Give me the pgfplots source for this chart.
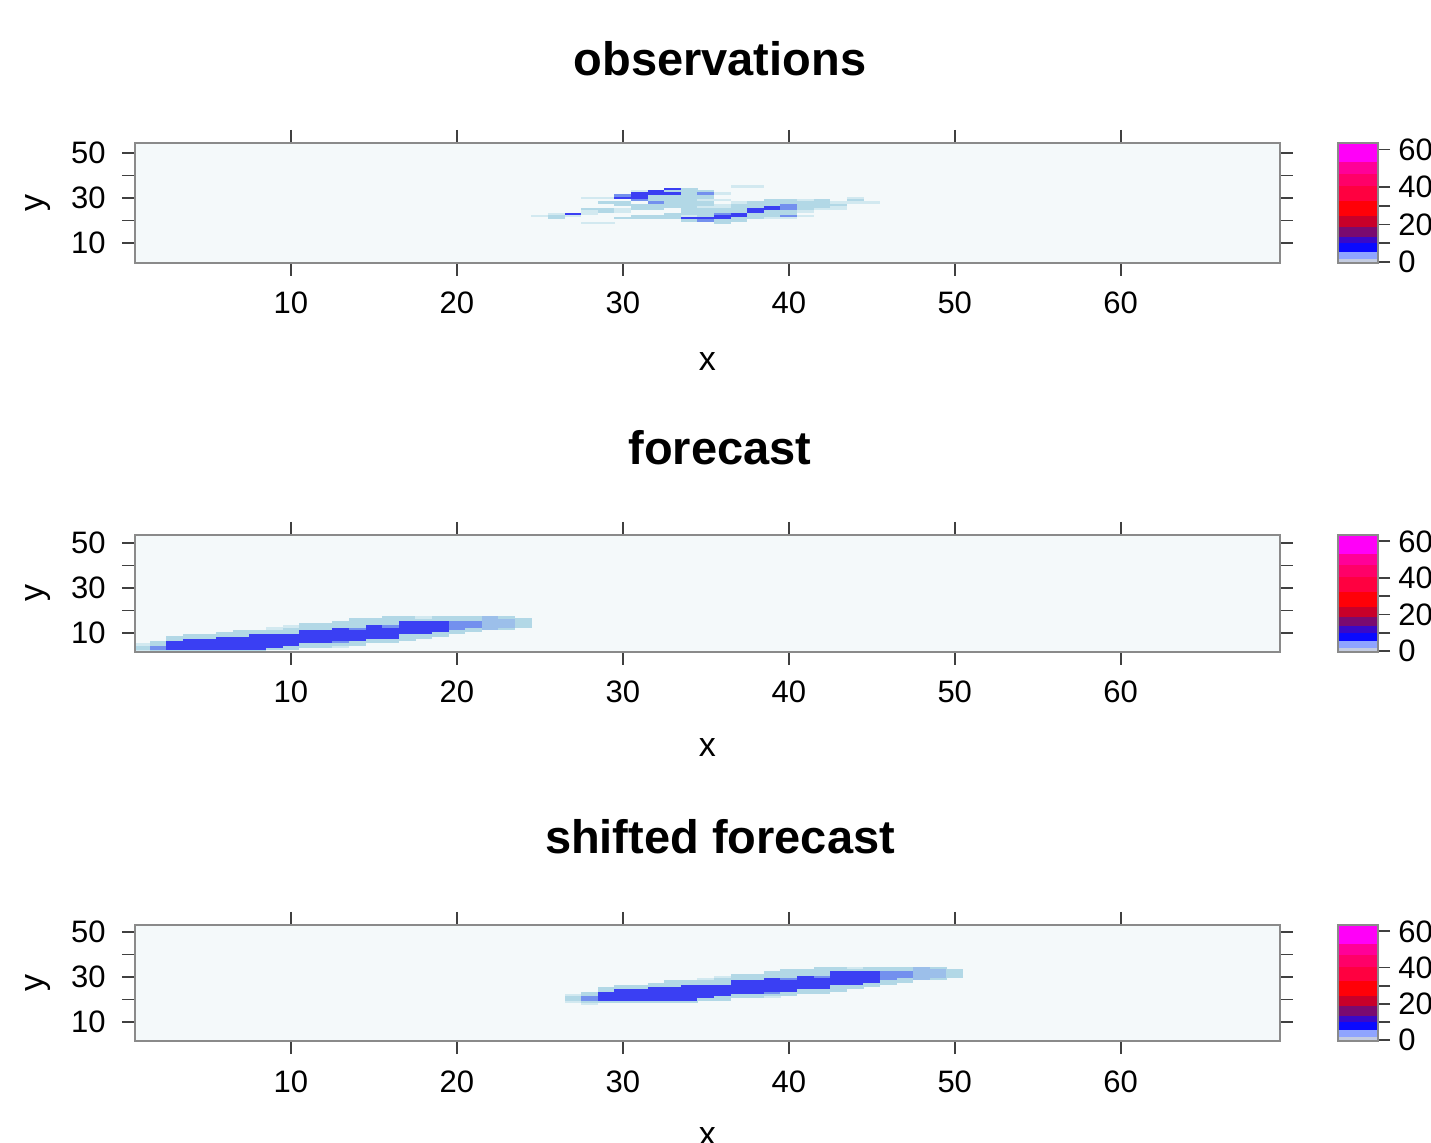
\documentclass[border=0pt]{standalone}
\usepackage{fontspec}
\setmainfont{Liberation Sans}
\usepackage{pgfplots}
\pgfplotsset{compat=1.18}

\definecolor{bgc}{HTML}{F4F9FA}
\definecolor{c1}{HTML}{D2E9F0}
\definecolor{c2}{HTML}{B2D8E6}
\definecolor{c3}{HTML}{9CBFEA}
\definecolor{c4}{HTML}{7390EE}
\definecolor{c5}{HTML}{3A3FF3}
\definecolor{framec}{HTML}{8A8A8A}
\definecolor{cba}{HTML}{C4CCE0}
\definecolor{cbb}{HTML}{8FA4FF}
\definecolor{cbc}{HTML}{0A0AFF}
\definecolor{cbd}{HTML}{3A08C8}
\definecolor{cbe}{HTML}{7A0A70}
\definecolor{cbf}{HTML}{C8002A}
\definecolor{cbg}{HTML}{FF0008}
\definecolor{cbh}{HTML}{FF0040}
\definecolor{cbi}{HTML}{FF0068}
\definecolor{cbj}{HTML}{FF0098}
\definecolor{cbk}{HTML}{FF00F8}

\pgfdeclareplotmark{cellmark}{\pgfpathrectangle{\pgfqpoint{-4.2pt}{-0.59pt}}{\pgfqpoint{8.4pt}{1.18pt}}\pgfusepathqfill}

\pgfplotsset{
  colormap={cellmap}{color(0cm)=(bgc) color(1cm)=(c1) color(2.5cm)=(c2) color(4cm)=(c3) color(5cm)=(c4) color(8cm)=(c5) color(12cm)=(c5)},
  panel/.style={scale only axis, width=572.5pt, xmin=0.6, xmax=69.6, anchor=south west,
    axis background/.style={fill=bgc}, axis on top,
    axis line style={draw=framec, line width=1.2pt},
    tick style={draw=black!75, line width=0.9pt}, major tick length=6.5pt, tick align=outside,
    xtick={10,20,30,40,50,60}, xticklabels={10,20,30,40,50,60},
    ytick={10,20,30,40,50}, yticklabels={10,,30,,50},
    tick label style={font=\fontsize{15.5}{18}\selectfont},
    xticklabel style={anchor=base, yshift=-19pt},
    yticklabel style={anchor=east, inner sep=0pt, xshift=-8pt},
    xlabel={x}, ylabel={y}, label style={font=\fontsize{17}{20}\selectfont},
    xlabel style={at={(axis description cs:0.5,-0.82)}, anchor=center},
    ylabel style={at={(axis description cs:-0.0847,0.5)}, anchor=center},
    colormap name=cellmap, colormap access=piecewise constant,
    point meta min=0, point meta max=12, clip marker paths=true},
  cellplot/.style={scatter, only marks, mark=cellmark, point meta=explicit,
    scatter/use mapped color={draw=none, fill=mapped color}},
  cbar/.style={scale only axis, width=20pt, xmin=0, xmax=1, ymin=-0.5, ymax=63.5, anchor=south west,
    axis on top, axis line style={draw=framec, line width=1.2pt},
    tick style={draw=black!75, line width=0.9pt}, major tick length=6pt, tick align=outside,
    xtick=\empty, ytick={0,10,20,30,40,60}, yticklabels={0,,20,,40,60},
    ytick pos=right, yticklabel pos=right,
    tick label style={font=\fontsize{15.5}{18}\selectfont},
    yticklabel style={anchor=west, inner sep=0pt, xshift=4pt}},
  band/.style={draw=none, fill=#1, point meta=none},
}

\newcommand\cbbands{%
  \addplot[band=cba] coordinates {(0,-0.5) (1,-0.5) (1,1.8) (0,1.8)};
  \addplot[band=cbb] coordinates {(0,1.8) (1,1.8) (1,5.4) (0,5.4)};
  \addplot[band=cbc] coordinates {(0,5.4) (1,5.4) (1,9.9) (0,9.9)};
  \addplot[band=cbd] coordinates {(0,9.9) (1,9.9) (1,13.5) (0,13.5)};
  \addplot[band=cbe] coordinates {(0,13.5) (1,13.5) (1,18.9) (0,18.9)};
  \addplot[band=cbf] coordinates {(0,18.9) (1,18.9) (1,24.3) (0,24.3)};
  \addplot[band=cbg] coordinates {(0,24.3) (1,24.3) (1,32.4) (0,32.4)};
  \addplot[band=cbh] coordinates {(0,32.4) (1,32.4) (1,40.5) (0,40.5)};
  \addplot[band=cbi] coordinates {(0,40.5) (1,40.5) (1,47) (0,47)};
  \addplot[band=cbj] coordinates {(0,47) (1,47) (1,53.2) (0,53.2)};
  \addplot[band=cbk] coordinates {(0,53.2) (1,53.2) (1,63.5) (0,63.5)};
}

\begin{document}
\begin{tikzpicture}
\useasboundingbox (0,0) rectangle (715.5pt,571pt);
\clip (0,0) rectangle (715.5pt,571pt);

% ---------------- observations
\node[font=\fontsize{23.5}{28}\selectfont\bfseries, anchor=base] at (360pt,533pt) {observations};
\begin{axis}[panel, at={(67.5pt,439.5pt)}, height=60pt, ymin=1.1, ymax=54.4]
\addplot[cellplot] table[row sep=\\, x index=0, y index=1, meta index=2] {
x y v\\
25 22 1.5\\
26 21 3.5\\ 26 22 3.5\\ 26 23 1.5\\
27 22 1.5\\ 27 23 9.5\\
28 19 1.5\\ 28 23 1.5\\ 28 24 1.5\\ 28 25 3.5\\ 28 30 1.5\\
29 19 1.5\\ 29 24 3.5\\ 29 25 3.5\\ 29 28 3.5\\ 29 30 1.5\\
30 21 3.5\\ 30 24 1.5\\ 30 25 1.5\\ 30 27 3.5\\ 30 28 3.5\\ 30 30 9.5\\ 30 31 6.5\\
31 21 3.5\\ 31 22 3.5\\ 31 25 3.5\\ 31 26 3.5\\ 31 27 3.5\\ 31 29 6.5\\ 31 30 9.5\\ 31 31 9.5\\ 31 32 9.5\\ 31 33 1.5\\
32 21 3.5\\ 32 22 3.5\\ 32 25 3.5\\ 32 26 3.5\\ 32 27 3.5\\ 32 28 6.5\\ 32 29 3.5\\ 32 30 3.5\\ 32 31 3.5\\ 32 32 9.5\\ 32 33 9.5\\
33 21 3.5\\ 33 22 3.5\\ 33 23 3.5\\ 33 26 3.5\\ 33 27 3.5\\ 33 28 3.5\\ 33 29 3.5\\ 33 30 3.5\\ 33 31 3.5\\ 33 32 9.5\\ 33 33 3.5\\ 33 34 9.5\\
34 20 3.5\\ 34 21 9.5\\ 34 22 1.5\\ 34 23 3.5\\ 34 24 3.5\\ 34 25 3.5\\ 34 26 3.5\\ 34 27 3.5\\ 34 28 3.5\\ 34 29 3.5\\ 34 30 3.5\\ 34 31 3.5\\ 34 32 3.5\\ 34 33 3.5\\ 34 34 3.5\\
35 20 6.5\\ 35 21 9.5\\ 35 22 3.5\\ 35 23 3.5\\ 35 24 3.5\\ 35 25 3.5\\ 35 26 1.5\\ 35 27 3.5\\ 35 28 3.5\\ 35 29 1.5\\ 35 30 3.5\\ 35 31 3.5\\ 35 32 6.5\\ 35 33 3.5\\
36 19 3.5\\ 36 20 3.5\\ 36 21 9.5\\ 36 22 9.5\\ 36 23 6.5\\ 36 24 3.5\\ 36 25 3.5\\ 36 26 1.5\\ 36 27 1.5\\ 36 29 1.5\\ 36 32 1.5\\
37 20 3.5\\ 37 21 3.5\\ 37 22 9.5\\ 37 23 9.5\\ 37 24 3.5\\ 37 25 3.5\\ 37 26 3.5\\ 37 27 3.5\\ 37 28 1.5\\ 37 35 1.5\\
38 21 3.5\\ 38 22 3.5\\ 38 23 3.5\\ 38 24 9.5\\ 38 25 9.5\\ 38 26 3.5\\ 38 27 3.5\\ 38 28 3.5\\ 38 35 1.5\\
39 21 1.5\\ 39 22 3.5\\ 39 23 3.5\\ 39 24 3.5\\ 39 25 9.5\\ 39 26 9.5\\ 39 27 3.5\\ 39 28 3.5\\ 39 29 3.5\\
40 21 1.5\\ 40 22 6.5\\ 40 23 3.5\\ 40 24 3.5\\ 40 25 6.5\\ 40 26 6.5\\ 40 27 6.5\\ 40 28 3.5\\ 40 29 3.5\\
41 22 1.5\\ 41 24 1.5\\ 41 25 3.5\\ 41 26 3.5\\ 41 27 3.5\\ 41 28 3.5\\ 41 29 1.5\\
42 25 1.5\\ 42 26 3.5\\ 42 27 3.5\\ 42 28 3.5\\ 42 29 3.5\\
43 25 1.5\\ 43 26 1.5\\ 43 27 3.5\\ 43 28 1.5\\
44 28 1.5\\ 44 29 3.5\\ 44 30 1.5\\
45 28 1.5\\
};
\end{axis}
\begin{axis}[cbar, at={(669pt,439.5pt)}, height=60pt]
\cbbands
\end{axis}

% ---------------- forecast
\node[font=\fontsize{23.5}{28}\selectfont\bfseries, anchor=base] at (360pt,338.5pt) {forecast};
\begin{axis}[panel, at={(67.5pt,245pt)}, height=58.5pt, ymin=1.6, ymax=53.6]
\addplot[cellplot] table[row sep=\\, x index=0, y index=1, meta index=2] {
x y v\\
1 2 1.5\\ 1 3 3.5\\ 1 4 3.5\\ 1 5 1.5\\
2 1 1.5\\ 2 2 3.5\\ 2 3 6.5\\ 2 4 6.5\\ 2 5 3.5\\ 2 6 3.5\\
3 2 3.5\\ 3 3 9.5\\ 3 4 9.5\\ 3 5 9.5\\ 3 6 9.5\\ 3 7 3.5\\ 3 8 3.5\\
4 2 3.5\\ 4 3 9.5\\ 4 4 9.5\\ 4 5 9.5\\ 4 6 9.5\\ 4 7 9.5\\ 4 8 3.5\\ 4 9 3.5\\
5 2 3.5\\ 5 3 9.5\\ 5 4 9.5\\ 5 5 9.5\\ 5 6 9.5\\ 5 7 9.5\\ 5 8 3.5\\ 5 9 3.5\\
6 2 3.5\\ 6 3 9.5\\ 6 4 9.5\\ 6 5 9.5\\ 6 6 9.5\\ 6 7 9.5\\ 6 8 9.5\\ 6 9 3.5\\ 6 10 3.5\\
7 2 3.5\\ 7 3 9.5\\ 7 4 9.5\\ 7 5 9.5\\ 7 6 9.5\\ 7 7 9.5\\ 7 8 9.5\\ 7 9 3.5\\ 7 10 3.5\\ 7 11 3.5\\
8 2 3.5\\ 8 3 9.5\\ 8 4 9.5\\ 8 5 9.5\\ 8 6 9.5\\ 8 7 9.5\\ 8 8 9.5\\ 8 9 9.5\\ 8 10 3.5\\ 8 11 3.5\\
9 3 3.5\\ 9 4 9.5\\ 9 5 9.5\\ 9 6 9.5\\ 9 7 9.5\\ 9 8 9.5\\ 9 9 9.5\\ 9 10 3.5\\ 9 11 3.5\\ 9 12 1.5\\
10 3 3.5\\ 10 4 3.5\\ 10 5 9.5\\ 10 6 9.5\\ 10 7 9.5\\ 10 8 9.5\\ 10 9 9.5\\ 10 10 3.5\\ 10 11 3.5\\ 10 12 3.5\\ 10 13 1.5\\
11 4 3.5\\ 11 5 3.5\\ 11 6 9.5\\ 11 7 9.5\\ 11 8 9.5\\ 11 9 9.5\\ 11 10 9.5\\ 11 11 9.5\\ 11 12 3.5\\ 11 13 3.5\\ 11 14 3.5\\
12 4 3.5\\ 12 5 3.5\\ 12 6 9.5\\ 12 7 9.5\\ 12 8 9.5\\ 12 9 9.5\\ 12 10 9.5\\ 12 11 9.5\\ 12 12 3.5\\ 12 13 3.5\\ 12 14 3.5\\
13 4 1.5\\ 13 5 3.5\\ 13 6 6.5\\ 13 7 9.5\\ 13 8 9.5\\ 13 9 9.5\\ 13 10 9.5\\ 13 11 9.5\\ 13 12 9.5\\ 13 13 3.5\\ 13 14 3.5\\ 13 15 3.5\\
14 5 3.5\\ 14 6 3.5\\ 14 7 9.5\\ 14 8 9.5\\ 14 9 9.5\\ 14 10 9.5\\ 14 11 9.5\\ 14 12 6.5\\ 14 13 3.5\\ 14 14 3.5\\ 14 15 3.5\\ 14 16 3.5\\
15 6 3.5\\ 15 7 3.5\\ 15 8 9.5\\ 15 9 9.5\\ 15 10 9.5\\ 15 11 9.5\\ 15 12 9.5\\ 15 13 9.5\\ 15 14 3.5\\ 15 15 3.5\\ 15 16 3.5\\
16 6 3.5\\ 16 7 3.5\\ 16 8 9.5\\ 16 9 9.5\\ 16 10 9.5\\ 16 11 9.5\\ 16 12 9.5\\ 16 13 6.5\\ 16 14 3.5\\ 16 15 3.5\\ 16 16 3.5\\ 16 17 3.5\\
17 7 3.5\\ 17 8 3.5\\ 17 9 3.5\\ 17 10 9.5\\ 17 11 9.5\\ 17 12 9.5\\ 17 13 9.5\\ 17 14 9.5\\ 17 15 9.5\\ 17 16 3.5\\ 17 17 3.5\\
18 8 3.5\\ 18 9 3.5\\ 18 10 9.5\\ 18 11 9.5\\ 18 12 9.5\\ 18 13 9.5\\ 18 14 9.5\\ 18 15 9.5\\ 18 16 3.5\\ 18 17 1.5\\
19 9 3.5\\ 19 10 3.5\\ 19 11 9.5\\ 19 12 9.5\\ 19 13 9.5\\ 19 14 9.5\\ 19 15 9.5\\ 19 16 3.5\\ 19 17 3.5\\
20 10 3.5\\ 20 11 3.5\\ 20 12 6.5\\ 20 13 6.5\\ 20 14 6.5\\ 20 15 6.5\\ 20 16 3.5\\ 20 17 3.5\\
21 11 3.5\\ 21 12 3.5\\ 21 13 6.5\\ 21 14 6.5\\ 21 15 6.5\\ 21 16 3.5\\ 21 17 3.5\\
22 12 4.5\\ 22 13 4.5\\ 22 14 4.5\\ 22 15 4.5\\ 22 16 4.5\\ 22 17 4.5\\
23 12 3.5\\ 23 13 4.5\\ 23 14 4.5\\ 23 15 4.5\\ 23 16 4.5\\ 23 17 3.5\\
24 13 3.5\\ 24 14 3.5\\ 24 15 3.5\\ 24 16 3.5\\
};
\end{axis}
\begin{axis}[cbar, at={(669pt,245pt)}, height=58.5pt]
\cbbands
\end{axis}

% ---------------- shifted forecast
\node[font=\fontsize{23.5}{28}\selectfont\bfseries, anchor=base] at (360pt,144pt) {shifted forecast};
\begin{axis}[panel, at={(67.5pt,50.5pt)}, height=58pt, ymin=1.6, ymax=53.1]
\addplot[cellplot] table[row sep=\\, x index=0, y index=1, meta index=2] {
x y v\\
27 19 1.5\\ 27 20 3.5\\ 27 21 3.5\\ 27 22 1.5\\
28 18 1.5\\ 28 19 3.5\\ 28 20 6.5\\ 28 21 6.5\\ 28 22 3.5\\ 28 23 3.5\\
29 19 3.5\\ 29 20 9.5\\ 29 21 9.5\\ 29 22 9.5\\ 29 23 9.5\\ 29 24 3.5\\ 29 25 3.5\\
30 19 3.5\\ 30 20 9.5\\ 30 21 9.5\\ 30 22 9.5\\ 30 23 9.5\\ 30 24 9.5\\ 30 25 3.5\\ 30 26 3.5\\
31 19 3.5\\ 31 20 9.5\\ 31 21 9.5\\ 31 22 9.5\\ 31 23 9.5\\ 31 24 9.5\\ 31 25 3.5\\ 31 26 3.5\\
32 19 3.5\\ 32 20 9.5\\ 32 21 9.5\\ 32 22 9.5\\ 32 23 9.5\\ 32 24 9.5\\ 32 25 9.5\\ 32 26 3.5\\ 32 27 3.5\\
33 19 3.5\\ 33 20 9.5\\ 33 21 9.5\\ 33 22 9.5\\ 33 23 9.5\\ 33 24 9.5\\ 33 25 9.5\\ 33 26 3.5\\ 33 27 3.5\\ 33 28 3.5\\
34 19 3.5\\ 34 20 9.5\\ 34 21 9.5\\ 34 22 9.5\\ 34 23 9.5\\ 34 24 9.5\\ 34 25 9.5\\ 34 26 9.5\\ 34 27 3.5\\ 34 28 3.5\\
35 20 3.5\\ 35 21 9.5\\ 35 22 9.5\\ 35 23 9.5\\ 35 24 9.5\\ 35 25 9.5\\ 35 26 9.5\\ 35 27 3.5\\ 35 28 3.5\\ 35 29 1.5\\
36 20 3.5\\ 36 21 3.5\\ 36 22 9.5\\ 36 23 9.5\\ 36 24 9.5\\ 36 25 9.5\\ 36 26 9.5\\ 36 27 3.5\\ 36 28 3.5\\ 36 29 3.5\\ 36 30 1.5\\
37 21 3.5\\ 37 22 3.5\\ 37 23 9.5\\ 37 24 9.5\\ 37 25 9.5\\ 37 26 9.5\\ 37 27 9.5\\ 37 28 9.5\\ 37 29 3.5\\ 37 30 3.5\\ 37 31 3.5\\
38 21 3.5\\ 38 22 3.5\\ 38 23 9.5\\ 38 24 9.5\\ 38 25 9.5\\ 38 26 9.5\\ 38 27 9.5\\ 38 28 9.5\\ 38 29 3.5\\ 38 30 3.5\\ 38 31 3.5\\
39 21 1.5\\ 39 22 3.5\\ 39 23 6.5\\ 39 24 9.5\\ 39 25 9.5\\ 39 26 9.5\\ 39 27 9.5\\ 39 28 9.5\\ 39 29 9.5\\ 39 30 3.5\\ 39 31 3.5\\ 39 32 3.5\\
40 22 3.5\\ 40 23 3.5\\ 40 24 9.5\\ 40 25 9.5\\ 40 26 9.5\\ 40 27 9.5\\ 40 28 9.5\\ 40 29 6.5\\ 40 30 3.5\\ 40 31 3.5\\ 40 32 3.5\\ 40 33 3.5\\
41 23 3.5\\ 41 24 3.5\\ 41 25 9.5\\ 41 26 9.5\\ 41 27 9.5\\ 41 28 9.5\\ 41 29 9.5\\ 41 30 9.5\\ 41 31 3.5\\ 41 32 3.5\\ 41 33 3.5\\
42 23 3.5\\ 42 24 3.5\\ 42 25 9.5\\ 42 26 9.5\\ 42 27 9.5\\ 42 28 9.5\\ 42 29 9.5\\ 42 30 6.5\\ 42 31 3.5\\ 42 32 3.5\\ 42 33 3.5\\ 42 34 3.5\\
43 24 3.5\\ 43 25 3.5\\ 43 26 3.5\\ 43 27 9.5\\ 43 28 9.5\\ 43 29 9.5\\ 43 30 9.5\\ 43 31 9.5\\ 43 32 9.5\\ 43 33 3.5\\ 43 34 3.5\\
44 25 3.5\\ 44 26 3.5\\ 44 27 9.5\\ 44 28 9.5\\ 44 29 9.5\\ 44 30 9.5\\ 44 31 9.5\\ 44 32 9.5\\ 44 33 3.5\\ 44 34 1.5\\
45 26 3.5\\ 45 27 3.5\\ 45 28 9.5\\ 45 29 9.5\\ 45 30 9.5\\ 45 31 9.5\\ 45 32 9.5\\ 45 33 3.5\\ 45 34 3.5\\
46 27 3.5\\ 46 28 3.5\\ 46 29 6.5\\ 46 30 6.5\\ 46 31 6.5\\ 46 32 6.5\\ 46 33 3.5\\ 46 34 3.5\\
47 28 3.5\\ 47 29 3.5\\ 47 30 6.5\\ 47 31 6.5\\ 47 32 6.5\\ 47 33 3.5\\ 47 34 3.5\\
48 29 4.5\\ 48 30 4.5\\ 48 31 4.5\\ 48 32 4.5\\ 48 33 4.5\\ 48 34 4.5\\
49 29 3.5\\ 49 30 4.5\\ 49 31 4.5\\ 49 32 4.5\\ 49 33 4.5\\ 49 34 3.5\\
50 30 3.5\\ 50 31 3.5\\ 50 32 3.5\\ 50 33 3.5\\
};
\end{axis}
\begin{axis}[cbar, at={(669pt,50.5pt)}, height=58pt]
\cbbands
\end{axis}
\end{tikzpicture}
\end{document}
